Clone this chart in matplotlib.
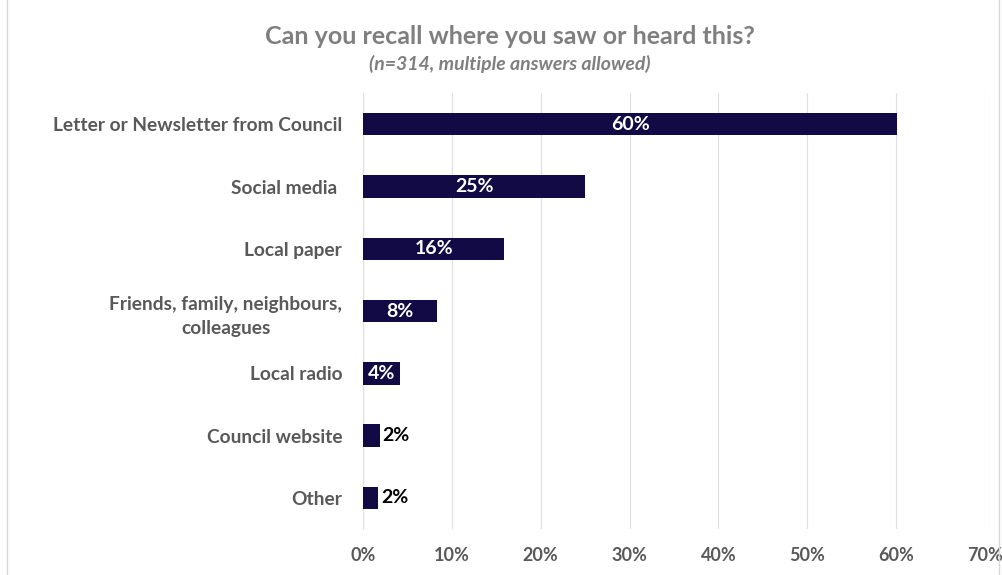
import matplotlib.pyplot as plt
from matplotlib.patches import Rectangle

categories = ["Letter or Newsletter from Council", "Social media ", "Local paper",
              "Friends, family, neighbours,\ncolleagues", "Local radio",
              "Council website", "Other"]
values = [60.1, 25.0, 15.9, 8.3, 4.2, 1.9, 1.7]
value_labels = ["60%", "25%", "16%", "8%", "4%", "2%", "2%"]
ticks = [0, 10, 20, 30, 40, 50, 60, 70]

BAR = "#120a45"
GREY = "#595959"

plt.rcParams['font.family'] = ['Lato', 'DejaVu Sans']

fig = plt.figure(figsize=(10.02, 5.75), dpi=100)
ax = fig.add_axes([0.3623, 0.080, 0.6207, 0.758])

ypos = list(range(len(categories)))
ax.barh(ypos, values, height=0.36, color=BAR, zorder=3)
ax.set_ylim(len(categories) - 0.5, -0.5)
ax.set_xlim(0, 70)

# value labels: white inside the bar, black just outside for the tiny ones
for y, v, lab in zip(ypos, values, value_labels):
    if v > 3:
        ax.text(v / 2, y, lab, ha='center', va='center', color='white',
                fontsize=14, fontweight='bold', zorder=4)
    else:
        ax.text(v + 0.3, y, lab, ha='left', va='center', color='black',
                fontsize=14, fontweight='bold', zorder=4)

ax.set_xticks(ticks)
ax.set_xticklabels([f"{t}%" for t in ticks], color=GREY, fontsize=13, fontweight='bold')
ax.set_yticks(ypos)
ax.set_yticklabels(categories, color=GREY, fontsize=13.8, fontweight='bold',
                   multialignment='center', linespacing=1.55)
ax.tick_params(axis='both', length=0)
ax.tick_params(axis='x', pad=13)
ax.tick_params(axis='y', pad=15)
ax.grid(axis='x', color='#e0e0e0', linewidth=0.9, zorder=0)
for s in ['top', 'right', 'bottom']:
    ax.spines[s].set_visible(False)
ax.spines['left'].set_color('#e0e0e0')

fig.text(0.509, 0.937, "Can you recall where you saw or heard this?", ha='center', va='center',
         color='#7f7f7f', fontsize=18, fontweight='bold')
fig.text(0.509, 0.889, "(n=314, multiple answers allowed)", ha='center', va='center',
         color='#7f7f7f', fontsize=14, fontweight='bold', style='italic')

fig.patches.append(Rectangle((0.007, -0.01), 0.99, 1.02, transform=fig.transFigure,
                             fill=False, edgecolor='#d9d9d9', linewidth=1))

fig.savefig("out.png", dpi=100)
